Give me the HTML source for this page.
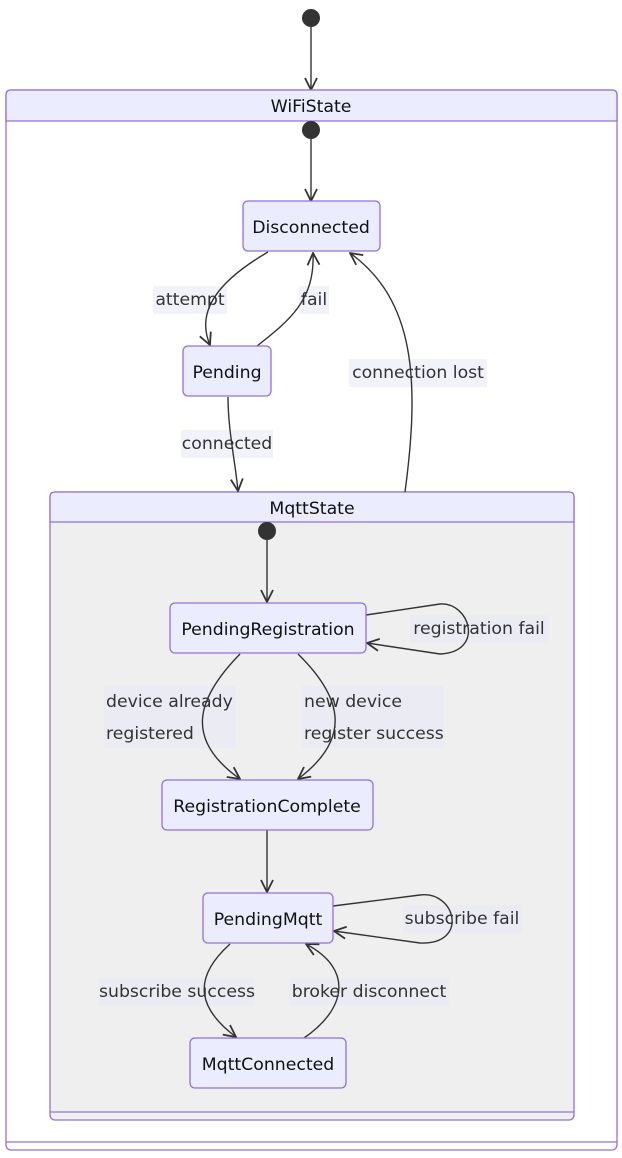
<!DOCTYPE html>
<html><head><meta charset="utf-8"><style>
html,body{margin:0;padding:0;background:#fff;}
svg{display:block;}
text{font-family:"DejaVu Sans","Liberation Sans",sans-serif;font-size:17.3px;fill:#333;}
.n{fill:#ececff;stroke:#9370db;stroke-width:1.3;}
.e{fill:none;stroke:#333;stroke-width:1.4;marker-end:url(#a);}
.lb{fill:#e8e8f8;fill-opacity:0.55;}
.t{fill:#111;}
</style></head><body>
<svg width="622" height="1158" viewBox="0 0 622 1158" xmlns="http://www.w3.org/2000/svg">
<defs>
<marker id="a" viewBox="0 0 14 14" refX="13" refY="7" markerWidth="14" markerHeight="14" markerUnits="userSpaceOnUse" orient="auto">
<polyline points="1,1 13,7 1,13" fill="none" stroke="#333" stroke-width="1.8"/>
</marker>
</defs>
<circle cx="311" cy="18" r="9" fill="#333"/>
<path class="e" d="M311,27 L311,90"/>
<rect x="6" y="90" width="611" height="1060" rx="5" fill="#fff" stroke="#9370db" stroke-width="1.3"/>
<path d="M11,90 H612 Q617,90 617,95 V121 H6 V95 Q6,90 11,90 Z" fill="#ececff" stroke="#9370db" stroke-width="1.3"/>
<line x1="6" y1="1142" x2="617" y2="1142" stroke="#9370db" stroke-width="1.3"/>
<text x="311" y="112" text-anchor="middle" class="t">WiFiState</text>
<circle cx="311" cy="130" r="9" fill="#333"/>
<path class="e" d="M311,139 L311,201"/>
<rect x="50" y="492" width="524" height="628" rx="5" fill="#efefef" stroke="#9370db" stroke-width="1.3"/>
<path d="M55,492 H569 Q574,492 574,497 V522 H50 V497 Q50,492 55,492 Z" fill="#ececff" stroke="#9370db" stroke-width="1.3"/>
<line x1="50" y1="1112" x2="574" y2="1112" stroke="#9370db" stroke-width="1.3"/>
<text x="312" y="514" text-anchor="middle" class="t">MqttState</text>
<rect class="lb" x="153" y="286" width="74" height="28"/><text x="190" y="305" text-anchor="middle">attempt</text>
<rect class="lb" x="299" y="286" width="30" height="28"/><text x="314" y="305" text-anchor="middle">fail</text>
<rect class="lb" x="349" y="359" width="138" height="28"/><text x="418" y="378" text-anchor="middle">connection lost</text>
<rect class="lb" x="181" y="430" width="92" height="28"/><text x="227" y="449" text-anchor="middle">connected</text>
<rect class="lb" x="410" y="615" width="139" height="28"/><text x="479" y="634" text-anchor="middle">registration fail</text>
<rect class="lb" x="104" y="686" width="132" height="62"/><text x="106" y="707">device already</text><text x="106" y="739">registered</text>
<rect class="lb" x="302" y="686" width="142" height="62"/><text x="304" y="707">new device</text><text x="304" y="739">register success</text>
<rect class="lb" x="403" y="905" width="119" height="28"/><text x="462" y="924" text-anchor="middle">subscribe fail</text>
<rect class="lb" x="99" y="978" width="156" height="28"/><text x="177" y="997" text-anchor="middle">subscribe success</text>
<rect class="lb" x="289" y="978" width="160" height="28"/><text x="369" y="997" text-anchor="middle">broker disconnect</text>
<path class="e" d="M268,252 C220,280 195,310 210,345"/>
<path class="e" d="M257,346 C290,320 315,300 313,253"/>
<path class="e" d="M405,492 C420,380 415,300 350,253"/>
<path class="e" d="M228,397 C228,430 235,460 238,491"/>
<circle cx="267" cy="531" r="9" fill="#333"/>
<path class="e" d="M267,540 L267,602"/>
<path class="e" d="M366,615 L440,604 C470,602 485,652 440,654 L367,643"/>
<path class="e" d="M240,654 C195,700 185,740 240,779"/>
<path class="e" d="M298,654 C345,700 350,740 298,779"/>
<path class="e" d="M267,830 L267,892"/>
<path class="e" d="M333,906 L420,895 C455,890 470,945 420,943 L334,931"/>
<path class="e" d="M230,944 C190,980 200,1010 236,1037"/>
<path class="e" d="M304,1038 C345,1010 355,970 306,944"/>
<rect class="n" x="243" y="201" width="137" height="50" rx="5"/><text x="311" y="233" text-anchor="middle" class="t">Disconnected</text>
<rect class="n" x="183" y="346" width="88" height="50" rx="5"/><text x="227" y="378" text-anchor="middle" class="t">Pending</text>
<rect class="n" x="170" y="603" width="196" height="50" rx="5"/><text x="268" y="635" text-anchor="middle" class="t">PendingRegistration</text>
<rect class="n" x="162" y="780" width="211" height="50" rx="5"/><text x="267" y="812" text-anchor="middle" class="t">RegistrationComplete</text>
<rect class="n" x="203" y="893" width="130" height="50" rx="5"/><text x="268" y="925" text-anchor="middle" class="t">PendingMqtt</text>
<rect class="n" x="190" y="1038" width="156" height="50" rx="5"/><text x="268" y="1070" text-anchor="middle" class="t">MqttConnected</text>
</svg>
</body></html>
